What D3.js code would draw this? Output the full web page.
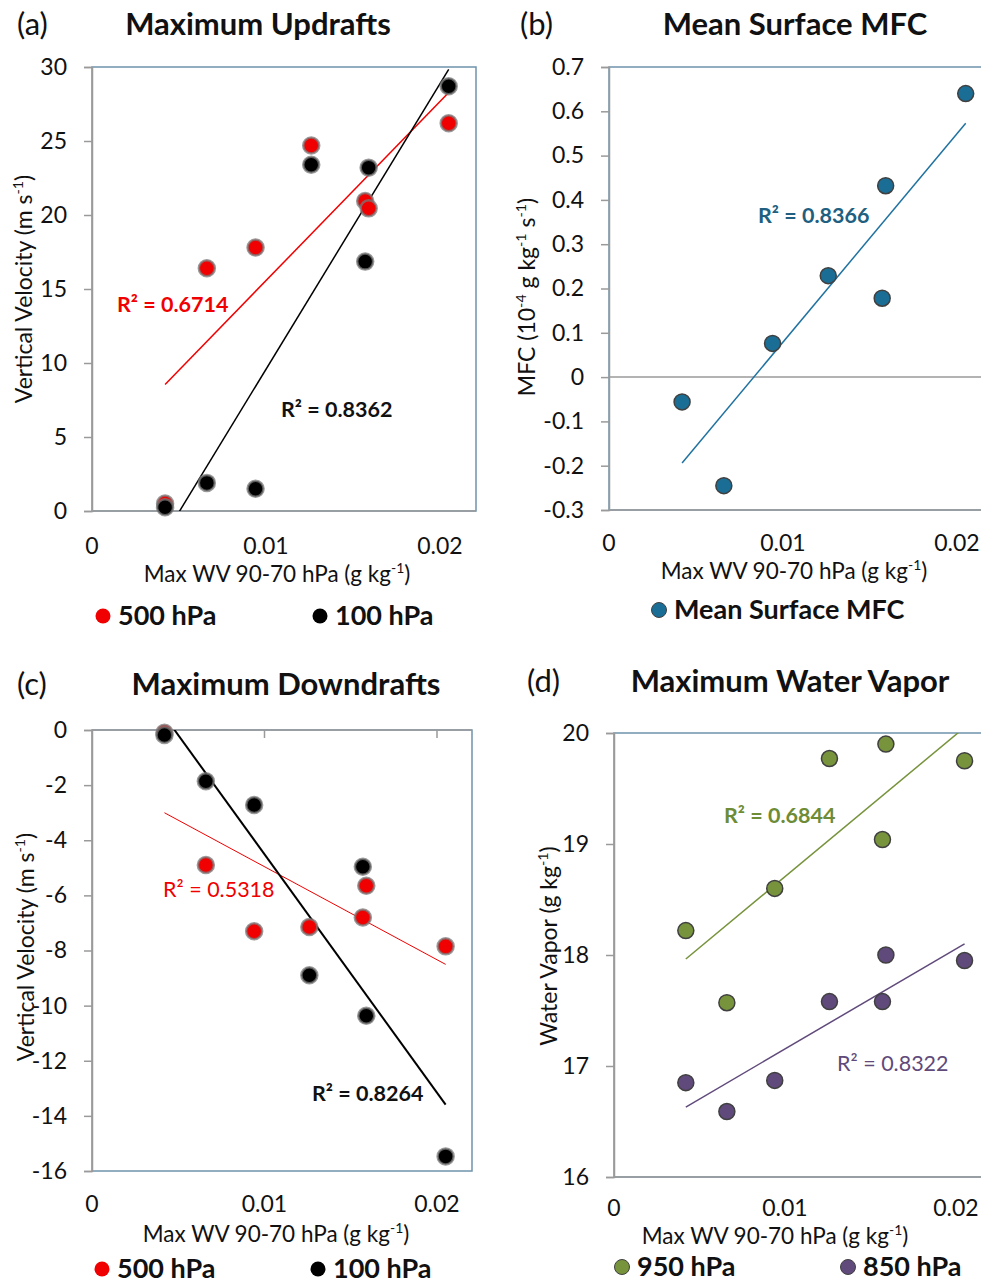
<!DOCTYPE html>
<html>
<head>
<meta charset="utf-8">
<script src="https://cdn.jsdelivr.net/npm/d3@7"></script>
<style>
  body { margin: 0; background: #fff; }
  svg { display: block; font-family: Lato, "Open Sans", sans-serif; }
</style>
</head>
<body>
<div id="app"></div>
<script>
// data
var maxWV = [0.0042, 0.0066, 0.0094, 0.0126, 0.0157, 0.0159, 0.0205];
var updraft500 = [0.5, 16.4, 17.8, 24.7, 20.95, 20.45, 26.2];
var updraft100 = [0.25, 1.9, 1.5, 23.4, 16.85, 23.2, 28.7];
var surfaceMFC = [-0.056, -0.245, 0.076, 0.229, 0.178, 0.432, 0.640];
var downdraft500 = [-0.1, -4.9, -7.3, -7.15, -6.8, -5.65, -7.85];
var downdraft100 = [-0.18, -1.86, -2.72, -8.9, -4.96, -10.37, -15.47];
var vapor950 = [18.22, 17.57, 18.6, 19.77, 19.04, 19.9, 19.75];
var vapor850 = [16.85, 16.59, 16.87, 17.58, 17.58, 18.0, 17.95];
var xTicks = [0, 0.01, 0.02];

var W = 981, H = 1284;
var svg = d3.select('#app').append('svg')
  .attr('width', W)
  .attr('height', H);

var frameColor = '#6f93aa';
var axisColor = '#9a9a9a';
var xTitle = [{t: 'Max WV 90-70 hPa (g kg'}, {t: '-1', sup: true}, {t: ')'}];

// text with superscript parts
function richText(g, parts, size) {
  var prevSup = false;
  parts.forEach(function(p) {
    var ts = g.append('tspan').text(p.t);
    if (p.sup) {
      ts.attr('font-size', size * 0.62).attr('dy', -size * 0.38);
    } else if (prevSup) {
      ts.attr('dy', size * 0.38);
    }
    prevSup = !!p.sup;
  });
  return g;
}

function fit(xs, ys) {
  var mx = d3.mean(xs), my = d3.mean(ys);
  var sxy = d3.sum(xs, (x, i) => (x - mx) * (ys[i] - my));
  var sxx = d3.sum(xs, x => (x - mx) * (x - mx));
  var b = sxy / sxx;
  return {slope: b, icpt: my - b * mx};
}

var panelId = 0;
function drawPanel(p) {
  panelId++;
  var g = svg.append('g');
  var x = d3.scaleLinear().domain([0, 0.02]).range([p.left, p.x02]);
  var y = d3.scaleLinear().domain(p.yDomain).range([p.bottom, p.top]);

  // panel letter and title
  g.append('text').attr('x', p.letterX).attr('y', p.titleY)
    .attr('font-size', 31).attr('fill', '#111').text(p.letter);
  g.append('text').attr('x', p.titleX).attr('y', p.titleY)
    .attr('text-anchor', 'middle').attr('font-size', 31).attr('font-weight', 'bold')
    .attr('fill', '#111').text(p.title);

  var clipId = 'clip' + panelId;
  g.append('clipPath').attr('id', clipId).append('rect')
    .attr('x', p.left).attr('y', p.top)
    .attr('width', p.right - p.left).attr('height', p.bottom - p.top);

  // plot area border
  g.append('rect')
    .attr('x', p.left).attr('y', p.top)
    .attr('width', p.right - p.left).attr('height', p.bottom - p.top)
    .attr('fill', 'none').attr('stroke', frameColor).attr('stroke-width', 1.5);

  // horizontal axis line
  var axisY = y(p.xAxisAt);
  g.append('line')
    .attr('x1', p.left).attr('x2', p.right)
    .attr('y1', axisY).attr('y2', axisY)
    .attr('stroke', axisColor).attr('stroke-width', 1.5);
  if (p.xTickMarks) {
    g.selectAll('.xtm').data(xTicks.slice(1)).enter().append('line')
      .attr('x1', d => x(d)).attr('x2', d => x(d))
      .attr('y1', axisY).attr('y2', axisY + 8)
      .attr('stroke', axisColor).attr('stroke-width', 1.5);
  }

  // vertical axis
  var yAxis = d3.axisLeft(y).tickValues(p.yTicks).tickSize(8).tickPadding(17)
    .tickFormat(p.yFormat);
  var ya = g.append('g').attr('transform', 'translate(' + p.left + ',0)').call(yAxis);
  ya.select('.domain').attr('stroke', axisColor).attr('stroke-width', 1.5);
  ya.selectAll('.tick line').attr('stroke', axisColor).attr('stroke-width', 1.5);
  ya.selectAll('.tick text').attr('font-size', 23).attr('fill', '#111')
    .attr('font-family', 'Lato, sans-serif');

  // x tick labels
  g.selectAll('.xl').data(xTicks).enter().append('text')
    .attr('x', d => x(d)).attr('y', p.xLabelY)
    .attr('text-anchor', 'middle').attr('font-size', 23).attr('fill', '#111')
    .text(d => d === 0 ? '0' : d3.format('.2f')(d).replace(/0+$/, ''));

  richText(g.append('text').attr('x', p.xTitleX).attr('y', p.xTitleY)
    .attr('text-anchor', 'middle').attr('font-size', 22.5).attr('fill', '#111'), xTitle, 22.5);

  richText(g.append('text')
    .attr('transform', 'translate(' + p.yTitleX + ',' + p.yTitleY + ') rotate(-90)')
    .attr('text-anchor', 'middle').attr('font-size', 23).attr('fill', '#111'), p.yTitle, 23);

  if (p.zeroLine) {
    g.append('line')
      .attr('x1', p.left).attr('x2', p.right)
      .attr('y1', y(0)).attr('y2', y(0))
      .attr('stroke', axisColor).attr('stroke-width', 1.5);
  }

  var inner = g.append('g').attr('clip-path', 'url(#' + clipId + ')');

  // trend lines
  p.series.forEach(function(s) {
    var f = fit(maxWV, s.values);
    var x0 = d3.min(maxWV), x1 = d3.max(maxWV);
    inner.append('line')
      .attr('x1', x(x0)).attr('y1', y(f.icpt + f.slope * x0))
      .attr('x2', x(x1)).attr('y2', y(f.icpt + f.slope * x1))
      .attr('stroke', s.lineColor || s.color).attr('stroke-width', s.lineWidth || 1.5);
  });

  // points
  p.series.forEach(function(s) {
    g.selectAll(null).data(s.values).enter().append('circle')
      .attr('cx', (d, i) => x(maxWV[i])).attr('cy', d => y(d))
      .attr('r', 8)
      .attr('fill', s.color)
      .attr('stroke', s.outline).attr('stroke-width', s.outlineWidth || 1.5);
  });

  // r squared labels
  p.series.forEach(function(s) {
    g.append('text').attr('x', s.rx).attr('y', s.ry)
      .attr('font-size', 21.5).attr('font-weight', s.rBold ? 'bold' : 'normal')
      .attr('fill', s.rColor || s.color).text('R² = ' + s.r2);
  });

  // legend
  p.series.forEach(function(s) {
    g.append('circle').attr('cx', s.legendX).attr('cy', p.legendY - 9)
      .attr('r', 7.5).attr('fill', s.color)
      .attr('stroke', s.outline === '#404040' ? '#404040' : 'none').attr('stroke-width', 1);
    g.append('text').attr('x', s.legendX + 15).attr('y', p.legendY)
      .attr('font-size', 27).attr('font-weight', 'bold').attr('fill', '#111')
      .text(s.name);
  });
}

var redDot = {color: '#f00000', outline: 'rgba(120,120,120,0.75)', outlineWidth: 2.5};
var blackDot = {color: '#000', outline: 'rgba(120,120,120,0.75)', outlineWidth: 2.5};

drawPanel({
  letter: '(a)', letterX: 17, title: 'Maximum Updrafts', titleX: 258, titleY: 35,
  left: 92, right: 476, top: 67, bottom: 511, x02: 440,
  yDomain: [0, 30], yTicks: d3.range(0, 31, 5), yFormat: d3.format('d'), xAxisAt: 0,
  xLabelY: 554, xTitleX: 277, xTitleY: 582,
  yTitle: [{t: 'Vertical Velocity (m s'}, {t: '-1', sup: true}, {t: ')'}], yTitleX: 32, yTitleY: 289,
  legendY: 625,
  series: [
    Object.assign({name: '500 hPa', values: updraft500, r2: '0.6714', rx: 117, ry: 312, rBold: true,
      legendX: 103}, redDot),
    Object.assign({name: '100 hPa', values: updraft100, r2: '0.8362', rx: 281, ry: 417, rBold: true,
      legendX: 320, rColor: '#111'}, blackDot)
  ]
});

drawPanel({
  letter: '(b)', letterX: 520, title: 'Mean Surface MFC', titleX: 795, titleY: 35,
  left: 609, right: 995, top: 67, bottom: 510, x02: 957,
  yDomain: [-0.3, 0.7], yTicks: d3.range(-3, 8).map(v => v / 10), yFormat: d => d === 0 ? '0' : d3.format('.1f')(d).replace('−', '-'),
  xAxisAt: -0.3, zeroLine: true,
  xLabelY: 551, xTitleX: 794, xTitleY: 579,
  yTitle: [{t: 'MFC (10'}, {t: '-4', sup: true}, {t: ' g kg'}, {t: '-1', sup: true}, {t: ' s'}, {t: '-1', sup: true}, {t: ')'}],
  yTitleX: 535, yTitleY: 297,
  legendY: 619,
  series: [
    {name: 'Mean Surface MFC', values: surfaceMFC, color: '#1a6e96', outline: '#404040', lineColor: '#1f72a0',
      r2: '0.8366', rx: 758, ry: 223, rBold: true, rColor: '#215f80', legendX: 659}
  ]
});

drawPanel({
  letter: '(c)', letterX: 17, title: 'Maximum Downdrafts', titleX: 286, titleY: 695,
  left: 92, right: 472, top: 730, bottom: 1171, x02: 437,
  yDomain: [-16, 0], yTicks: d3.range(-16, 1, 2), yFormat: d => d3.format('d')(d).replace('−', '-'), xAxisAt: 0, xTickMarks: true,
  xLabelY: 1212, xTitleX: 276, xTitleY: 1242,
  yTitle: [{t: 'Vertical Velocity (m s'}, {t: '-1', sup: true}, {t: ')'}], yTitleX: 34, yTitleY: 947,
  legendY: 1278,
  series: [
    Object.assign({name: '500 hPa', values: downdraft500, r2: '0.5318', rx: 163, ry: 897, rBold: false,
      legendX: 102, lineWidth: 1}, redDot),
    Object.assign({name: '100 hPa', values: downdraft100, r2: '0.8264', rx: 312, ry: 1101, rBold: true,
      legendX: 318, rColor: '#111', lineWidth: 2}, blackDot)
  ]
});

drawPanel({
  letter: '(d)', letterX: 527, title: 'Maximum Water Vapor', titleX: 790, titleY: 692,
  left: 614, right: 1000, top: 733, bottom: 1177, x02: 956,
  yDomain: [16, 20], yTicks: [16, 17, 18, 19, 20], yFormat: d3.format('d'), xAxisAt: 16,
  xLabelY: 1216, xTitleX: 775, xTitleY: 1244,
  yTitle: [{t: 'Water Vapor (g kg'}, {t: '-1', sup: true}, {t: ')'}], yTitleX: 557, yTitleY: 946,
  legendY: 1276,
  series: [
    {name: '950 hPa', values: vapor950, color: '#77933c', outline: '#404040',
      r2: '0.6844', rx: 724, ry: 823, rBold: true, rColor: '#6e8c35', legendX: 622},
    {name: '850 hPa', values: vapor850, color: '#604a7b', outline: '#404040',
      r2: '0.8322', rx: 837, ry: 1071, rBold: false, rColor: '#5f4a7a', legendX: 848}
  ]
});
</script>
</body>
</html>
